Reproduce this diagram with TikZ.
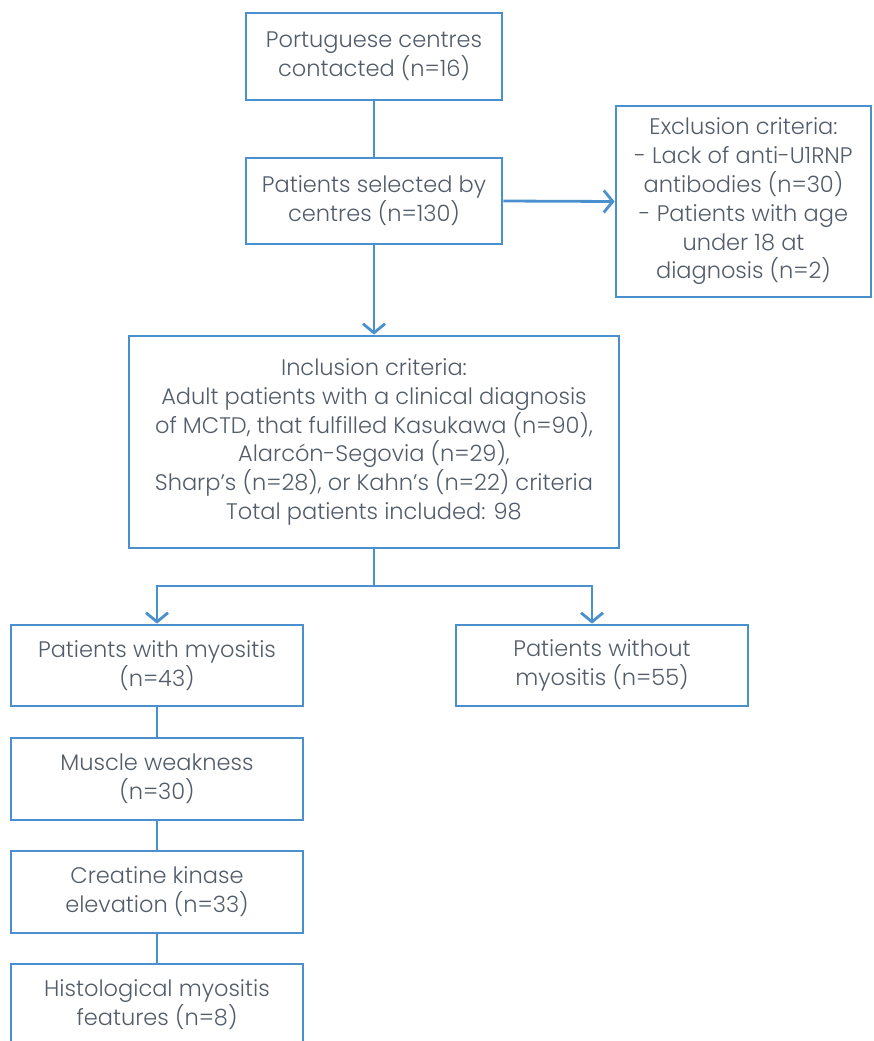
\documentclass[tikz,border=0pt]{standalone}
\usepackage{fontspec}
\setmainfont{Poppins Light}
\usetikzlibrary{arrows.meta}
\definecolor{lineblue}{HTML}{4A90CF}
\definecolor{txtgray}{HTML}{525D69}
\tikzset{
  box/.style={draw=lineblue, line width=2.8pt, fill=white, text=txtgray, align=center,
    inner sep=0pt, font=\fontsize{22.5}{28.8}\selectfont},
  link/.style={draw=lineblue, line width=2.8pt},
  arr/.style={link, -{Straight Barb[length=9pt,width=22pt,line width=2.8pt]}}
}
\begin{document}
\begin{tikzpicture}[x=1pt,y=-1pt]
\useasboundingbox (0,0) rectangle (873,1041);
\clip (0,0) rectangle (873,1041);
\node[box, minimum width=256pt, minimum height=87pt] (n1) at (374,56.5) {Portuguese centres\\contacted (n=16)};
\node[box, minimum width=256pt, minimum height=86pt] (n2) at (374,201) {Patients selected by\\centres (n=130)};
\node[box, minimum width=255pt, minimum height=191pt] (ex) at (743.5,201.5) {Exclusion criteria:\\- Lack of anti-U1RNP\\antibodies (n=30)\\- Patients with age\\under 18 at\\diagnosis (n=2)};
\node[box, minimum width=490pt, minimum height=212pt] (inc) at (374,442) {Inclusion criteria:\\Adult patients with a clinical diagnosis\\of MCTD, that fulfilled Kasukawa (n=90),\\Alarcón-Segovia (n=29),\\Sharp’s (n=28), or Kahn’s (n=22) criteria\\Total patients included: 98};
\node[box, minimum width=292pt, minimum height=81pt] (my) at (157,665.5) {Patients with myositis\\(n=43)};
\node[box, minimum width=292pt, minimum height=81pt] (nomy) at (602,665.5) {Patients without\\myositis (n=55)};
\node[box, minimum width=292pt, minimum height=82pt] (mw) at (157,779) {Muscle weakness\\(n=30)};
\node[box, minimum width=292pt, minimum height=82pt] (ck) at (157,892) {Creatine kinase\\elevation (n=33)};
\node[box, minimum width=292pt, minimum height=82pt] (hi) at (157,1005) {Histological myositis\\features (n=8)};
\draw[link] (n1) -- (n2);
\draw[arr] (n2.east) -- (ex.west);
\draw[arr] (n2.south) -- (inc.north);
\coordinate (j) at (374,586);
\coordinate (jl) at (157,586);
\coordinate (jr) at (592,586);
\draw[link] (inc.south) -- (j);
\draw[arr] (j) -- (jl) -- (my.north);
\draw[arr] (j) -- (jr) -- (jr |- nomy.north);
\draw[link] (my) -- (mw);
\draw[link] (mw) -- (ck);
\draw[link] (ck) -- (hi);
\end{tikzpicture}
\end{document}
